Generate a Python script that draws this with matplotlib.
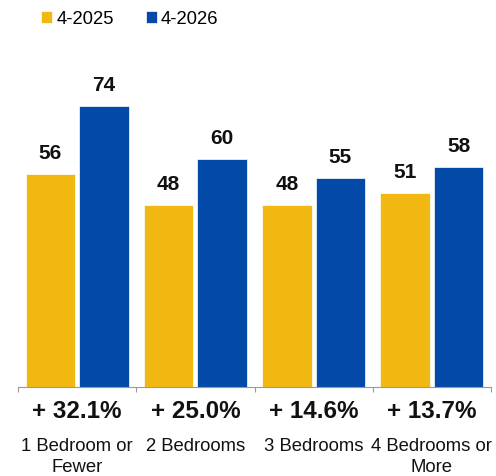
import matplotlib.pyplot as plt
import numpy as np

# data per bedroom count
kategori = ["1 Bedroom or\nFewer", "2 Bedrooms", "3 Bedrooms", "4 Bedrooms or\nMore"]
nilai_2025 = [56, 48, 48, 51]
nilai_2026 = [74, 60, 55, 58]
label_seri = ["4-2025", "4-2026"]

kuning = "#F1B811"
biru = "#0349A7"

plt.rcParams['font.family'] = ['Liberation Sans', 'DejaVu Sans']

fig = plt.figure(figsize=(4.96, 4.77), dpi=100)
ax = fig.add_axes([18/496, 89/477, 473/496, 342/477])

x = np.arange(len(kategori))
lebar = 0.42
geser = 0.226
b1 = ax.bar(x - geser, nilai_2025, lebar, color=kuning, edgecolor="white", linewidth=0.5, label=label_seri[0])
b2 = ax.bar(x + geser, nilai_2026, lebar, color=biru, edgecolor="white", linewidth=0.5, label=label_seri[1])

# value labels above each bar
for bars, vals in [(b1, nilai_2025), (b2, nilai_2026)]:
    for r, v in zip(bars, vals):
        ax.annotate(str(v), (r.get_x() + r.get_width()/2, v), xytext=(0, 11.5),
                    textcoords="offset points", ha="center", va="baseline",
                    fontsize=15, fontweight="bold", color="#111111")

ax.set_xlim(-0.5, len(kategori) - 0.5)
ax.set_ylim(0, 90)

# tick marks on category boundaries only
ax.set_xticks(np.arange(len(kategori) + 1) - 0.5)
ax.set_xticklabels([])
ax.tick_params(axis="x", direction="out", length=3.6, width=0.8, color="#999999")
ax.set_yticks([])
for s in ["left", "right", "top"]:
    ax.spines[s].set_visible(False)
ax.spines["bottom"].set_color("#999999")
ax.spines["bottom"].set_linewidth(0.8)

# percentage change and category names below the axis
for i in range(len(kategori)):
    persen = (nilai_2026[i] / nilai_2025[i] - 1) * 100
    ax.annotate(f"+ {persen:.1f}%", (i, 0), xycoords=("data", "axes fraction"),
                xytext=(0, -17), textcoords="offset points", ha="center", va="center",
                fontsize=17.5, fontweight="bold", color="#111111")
    ax.annotate(kategori[i], (i, 0), xycoords=("data", "axes fraction"),
                xytext=(0, -36), textcoords="offset points", ha="center", va="top",
                fontsize=13.3, color="#111111", linespacing=1.32)

ax.legend(loc="upper left", bbox_to_anchor=(16/473, 1 + 42/342), ncol=2, frameon=False,
          fontsize=13.3, handlelength=0.6, handleheight=0.6, handletextpad=0.2,
          columnspacing=1.75, borderaxespad=0)

fig.savefig("out.png", dpi=100)
